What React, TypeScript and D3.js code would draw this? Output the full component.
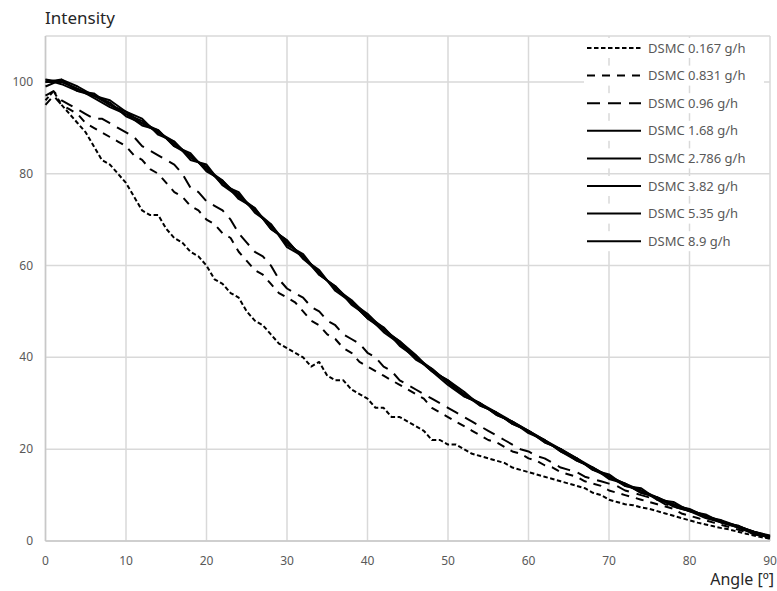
import React from "react";
import * as d3 from "d3";

const xTicks = [0, 10, 20, 30, 40, 50, 60, 70, 80, 90];
const yTicks = [0, 20, 40, 60, 80, 100];

// 1-degree step series
const xFine = d3.range(0, 91, 1);
const s0167 = [96,98,95,93,91,89,86,83,82,80,78,75,72,71,71,68,66,65,63,62,60,57,56,54,53,50,48,47,45,43,42,41,40,38,39,36,35,35,33,32,31,29,29,27,27,26,25,24,22,22,21,21,20,19,18.5,18,17.5,17,16,15.5,15,14.5,14,13.5,13,12.5,12,11.5,10.5,10,9,8.5,8,7.8,7.3,7,6.5,6,5.5,5,4.5,4,3.6,3.2,2.8,2.5,2,1.6,1.2,0.8,0.5];
const s096 = [97,98,96,95,94,93,92,92,91,90,89,88,86,85,84,83,82,80,77,76,74,73,72,70,67,65,63,62,60,57,55,54,53,51,50,48,47,45,44,43,41,40,38,37,35,34,33,32,31,30,29,28,27,26,25,24,23,22,21,20,19.5,18.5,18,17,16,15.5,15,14,13.5,13,12.5,12,11,10.5,10,9.5,9,8,7.5,7,6.5,6,5.5,4.8,4.2,3.6,3,2.4,1.8,1.2,0.8];
const s0831 = [95,97,95,94,93,91,90,89,88,87,86,84,83,81,80,78,76,75,73,72,70,69,67,66,63,61,59,58,56,54,53,52,50,48,47,45,44,42,41,39,38,37,36,35,34,33,32,31,29,28,27,26,25,24,23,22,21.5,20.5,19.5,19,18,17.5,16.5,16,15,14.5,14,13,12.5,12,11,10.5,10,9.5,9,8.5,8,7.5,7,6,5.5,5,4.5,4,3.5,3,2.5,2,1.5,1,0.6];

// 2-degree step series
const xCoarse = d3.range(0, 91, 2);
const s168 = [100,100.5,98,97.5,95,93,91.5,89,86.5,84,81,78,75.5,72,68.5,65,62,58.5,55,52.5,49,46.5,43,40,37.5,34.5,32,30,28,26,24,22,20,18,16,14,12.5,11,9.5,8,6.8,5.5,4.3,3.2,2,1];
const s2786 = [99,100.5,99,97,96,93.5,92,88.5,87,83,82,77.5,76,71.5,69,64.5,62.5,58,55.5,52,49.5,46,43.5,40.5,37,35,32.5,29.5,28,25.5,24,21.5,20,18,15.5,14,12,11,9,8,6.5,5.5,4,3,2,1];
const s382 = [100,100,98.5,96.5,94.5,93,90.5,89.5,86,84.5,80.5,78.5,74.5,72.5,68,65.5,61.5,59,54.5,52,48.5,46.5,42.5,40,37,34,31.5,30,27.5,26,23.5,22,19.5,17.5,16,13.5,12.5,10.5,9.5,7.5,6.5,5,4,3,1.5,0.8];
const s535 = [100.5,99.5,98,97,95.5,92.5,91,89,87,83.5,81.5,77.5,75,72,69,64,62,58,55.5,51.5,49,45.5,43,39.5,37.5,34.5,32,29.5,28,25.5,24,21.5,20,17.5,16,14,12.5,10.5,9.5,7.8,7,5.3,4.5,3.2,2,1.2];
const s89 = [100.5,100,98.5,97,95,93.5,91,89.5,86,84,81,78.5,75,72.5,68,65.5,61.5,58.5,55,52,48.5,46,43.5,40,37,35,31.5,30,27.5,26,24,22,19.5,18,15.5,14.5,12,11.5,9,8.5,6.5,5.8,4,3.4,1.8,0.8];

const seriesNames = ["DSMC 0.167 g/h","DSMC 0.831 g/h","DSMC 0.96 g/h","DSMC 1.68 g/h","DSMC 2.786 g/h","DSMC 3.82 g/h","DSMC 5.35 g/h","DSMC 8.9 g/h"];
const seriesValues = [s0167, s0831, s096, s168, s2786, s382, s535, s89];
const seriesX = [xFine, xFine, xFine, xCoarse, xCoarse, xCoarse, xCoarse, xCoarse];
const dashes = ["4.5,2.5", "8,7", "13,8", "", "", "", "", ""];

export default function App() {
  const W = 777, H = 591;
  const left = 45.5, right = 770, top = 36, bottom = 541;
  const x = d3.scaleLinear().domain([0, 90]).range([left, right]);
  const y = d3.scaleLinear().domain([0, 110]).range([bottom, top]);
  const line = d3.line<[number, number]>().x(d => x(d[0])).y(d => y(d[1]));
  const font = "'Noto Sans', 'Open Sans', sans-serif";
  const grid = "#d9d9d9";
  return (
    <svg width={W} height={H} style={{ position: "absolute", left: 0, top: 0, background: "#fff" }}>
      <rect x={0} y={0} width={W} height={H} fill="#fff" />
      {xTicks.map(t => (
        <line key={"gx" + t} x1={x(t)} x2={x(t)} y1={top} y2={bottom} stroke={grid} strokeWidth={1.5} />
      ))}
      {yTicks.map(t => (
        <line key={"gy" + t} x1={left} x2={right} y1={y(t)} y2={y(t)} stroke={grid} strokeWidth={1.5} />
      ))}
      <line x1={left} x2={right} y1={top} y2={top} stroke={grid} strokeWidth={1.5} />
      <line x1={left} x2={left} y1={top} y2={bottom} stroke="#c8c8c8" strokeWidth={1.5} />
      <line x1={left} x2={right} y1={bottom} y2={bottom} stroke="#c8c8c8" strokeWidth={1.5} />
      {xTicks.map(t => (
        <text key={"tx" + t} x={x(t)} y={565} textAnchor="middle" fontFamily={font} fontSize={12} fill="#595959">{t}</text>
      ))}
      {yTicks.map(t => (
        <text key={"ty" + t} x={33} y={y(t) + 4} textAnchor="end" fontFamily={font} fontSize={12} fill="#595959">{t}</text>
      ))}
      <text x={45} y={24} fontFamily={font} fontSize={17} fill="#262626">Intensity</text>
      <text x={774} y={585} textAnchor="end" fontFamily={font} fontSize={16} fill="#262626">Angle [º]</text>
      {seriesValues.map((vals, i) => (
        <path key={"s" + i}
          d={line(vals.map((v, j) => [seriesX[i][j], v] as [number, number])) || ""}
          fill="none" stroke="#000" strokeWidth={2} strokeDasharray={dashes[i] || undefined}
          strokeLinejoin="round" />
      ))}
      {seriesNames.map((n, i) => {
        const ly = 48 + i * 27.6;
        return (
          <g key={"lg" + i}>
            <rect x={584} y={ly - 10} width={180} height={20} fill="#fff" />
            <line x1={587} x2={641} y1={ly} y2={ly} stroke="#000" strokeWidth={2} strokeDasharray={dashes[i] || undefined} />
            <text x={648} y={ly + 4.5} fontFamily={font} fontSize={13} fill="#595959">{n}</text>
          </g>
        );
      })}
    </svg>
  );
}
